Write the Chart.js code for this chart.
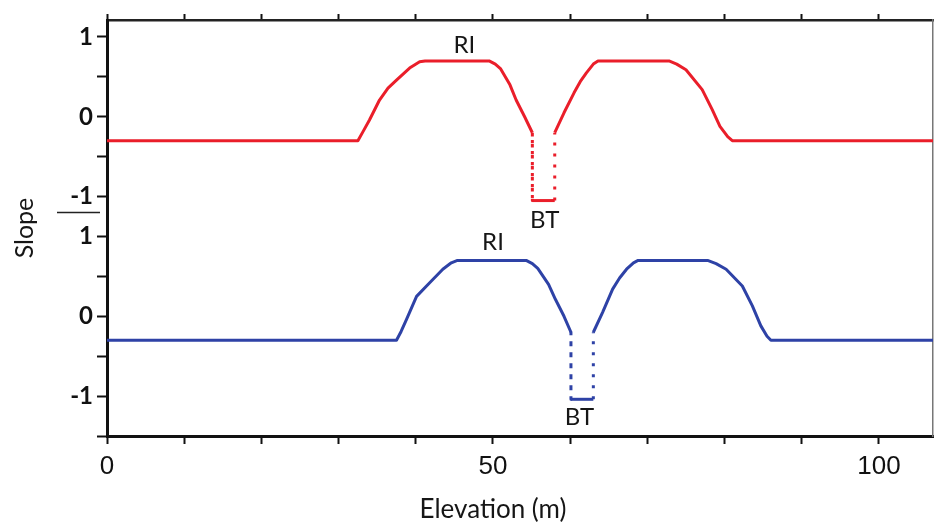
<!DOCTYPE html>
<html>
<head>
<meta charset="utf-8">
<script src="https://cdn.jsdelivr.net/npm/chart.js@4.4.1/dist/chart.umd.min.js"></script>
<style>
  html, body { margin: 0; padding: 0; background: #fff; }
  canvas { display: block; }
</style>
</head>
<body>
<canvas id="slopeChart" width="935" height="524"></canvas>
<script>
// upper profile (red), slope vs elevation
const redX = [0, 32.5, 33.2, 34.0, 35.3, 36.4, 37.5, 39.2, 40.5, 41.2, 49.5, 50.3, 51.0, 52.2, 53.0, 54.1, 55.1, 55.1, 58.0, 58.0, 59.2, 60.5, 61.3, 62.1, 63.0, 63.6, 72.8, 73.8, 75.0, 77.1, 78.4, 79.4, 80.4, 81.0, 107];
const redY = [-0.3, -0.3, -0.18, -0.04, 0.21, 0.36, 0.46, 0.61, 0.69, 0.7, 0.7, 0.66, 0.6, 0.4, 0.21, 0.0, -0.2, -1.05, -1.05, -0.2, 0.05, 0.3, 0.44, 0.55, 0.66, 0.7, 0.7, 0.66, 0.59, 0.34, 0.09, -0.12, -0.25, -0.3, -0.3];

// lower profile (blue)
const blueX = [0, 37.5, 38.1, 38.8, 40.1, 41.8, 43.5, 44.6, 45.4, 54.3, 55.1, 55.8, 57.2, 58.1, 59.2, 60.1, 60.1, 63.0, 63.0, 64.2, 65.5, 66.4, 67.3, 68.2, 68.8, 77.8, 78.9, 80.2, 82.3, 83.6, 84.7, 85.5, 86.0, 107];
const blueY = [-0.3, -0.3, -0.19, -0.04, 0.25, 0.42, 0.59, 0.67, 0.7, 0.7, 0.66, 0.6, 0.4, 0.21, 0.0, -0.2, -1.04, -1.04, -0.2, 0.05, 0.34, 0.48, 0.59, 0.67, 0.7, 0.7, 0.66, 0.59, 0.38, 0.13, -0.12, -0.25, -0.3, -0.3];

// the red panel sits above the blue one on a shared axis
const topOffset = 2.5;

const xTickLabels = [0, 50, 100];
const yTickLabels = [-1, 0, 1];

const notes = [
  { text: 'RI', x: 46.3, y: 0.9, panel: 'top' },
  { text: 'BT', x: 56.7, y: -1.3, panel: 'top' },
  { text: 'RI', x: 50.0, y: 0.93, panel: 'bottom' },
  { text: 'BT', x: 61.2, y: -1.26, panel: 'bottom' }
];

const toPoints = (xs, ys, shift) => xs.map((x, i) => ({ x: x, y: ys[i] + shift }));

// vertical drops into the trough are drawn dotted
const isDrop = ctx => ctx.p0.parsed.x === ctx.p1.parsed.x;
const dropDash = ctx => isDrop(ctx) ? [3, 8] : undefined;

const txtFont = 'Lato, "Open Sans", sans-serif';

const overlay = {
  id: 'overlay',
  afterDraw(chart) {
    const c = chart.ctx, xs = chart.scales.x, ys = chart.scales.y;
    c.save();
    c.fillStyle = '#161616';
    c.textAlign = 'center';
    c.textBaseline = 'middle';
    c.font = '24px ' + txtFont;
    notes.forEach(n => {
      const v = n.y + (n.panel === 'top' ? topOffset : 0);
      c.fillText(n.text, xs.getPixelForValue(n.x), ys.getPixelForValue(v));
    });
    c.font = '26px ' + txtFont;
    c.fillText('Elevation (m)', xs.getPixelForValue(50), 510);
    // divider between the two panels' tick labels
    c.strokeStyle = '#222';
    c.lineWidth = 1.5;
    const yd = ys.getPixelForValue(1.3);
    c.beginPath();
    c.moveTo(57, yd);
    c.lineTo(100, yd);
    c.stroke();
    c.restore();
  }
};

new Chart(document.getElementById('slopeChart'), {
  type: 'line',
  data: {
    datasets: [{
      data: toPoints(redX, redY, topOffset),
      borderColor: 'rgb(234, 30, 42)',
      borderWidth: 3,
      borderJoinStyle: 'round',
      pointRadius: 0,
      tension: 0,
      segment: { borderDash: dropDash }
    }, {
      data: toPoints(blueX, blueY, 0),
      borderColor: 'rgb(46, 66, 166)',
      borderWidth: 3,
      borderJoinStyle: 'round',
      pointRadius: 0,
      tension: 0,
      segment: { borderDash: dropDash }
    }]
  },
  options: {
    responsive: false,
    devicePixelRatio: 1,
    animation: false,
    layout: { padding: 0 },
    plugins: { legend: { display: false }, tooltip: { enabled: false } },
    scales: {
      x: {
        type: 'linear', position: 'bottom', min: 0, max: 107,
        border: { color: '#111', width: 3 },
        grid: { drawOnChartArea: false, color: '#111', tickLength: 8, tickWidth: 2 },
        ticks: {
          stepSize: 10, includeBounds: false, autoSkip: false, maxRotation: 0,
          color: '#111', font: { family: '"Liberation Sans", Arial, sans-serif', size: 26 },
          padding: 7,
          callback: v => xTickLabels.includes(v) ? String(v) : ''
        },
        afterFit: s => { s.height = 88; }
      },
      xTop: {
        type: 'linear', position: 'top', min: 0, max: 107,
        border: { color: '#222', width: 2.5 },
        grid: { drawOnChartArea: false, color: '#111', tickLength: 6, tickWidth: 2 },
        ticks: { stepSize: 10, includeBounds: false, display: false },
        afterFit: s => { s.height = 20; }
      },
      y: {
        type: 'linear', position: 'left', min: -1.5, max: 3.7125,
        border: { color: '#111', width: 3 },
        grid: { drawOnChartArea: false, color: '#111', tickLength: 10, tickWidth: 2 },
        ticks: {
          stepSize: 0.5, includeBounds: false, autoSkip: false,
          color: '#111', font: { family: txtFont, size: 24, weight: 'bold' },
          padding: 4,
          callback: v => {
            const r = Math.round(v * 2) / 2;
            if (yTickLabels.includes(r)) return String(r);
            if (yTickLabels.includes(r - topOffset)) return String(r - topOffset);
            return '';
          }
        },
        title: {
          display: true, text: 'Slope', color: '#161616',
          font: { family: txtFont, size: 25 }, padding: { top: 10, bottom: 0 }
        },
        afterFit: s => { s.width = 107; }
      },
      yRight: {
        type: 'linear', position: 'right', min: -1.5, max: 3.7125,
        border: { color: '#777', width: 1.5 },
        grid: { display: false },
        ticks: { display: false },
        afterFit: s => { s.width = 2; }
      }
    }
  },
  plugins: [overlay]
});
</script>
</body>
</html>
